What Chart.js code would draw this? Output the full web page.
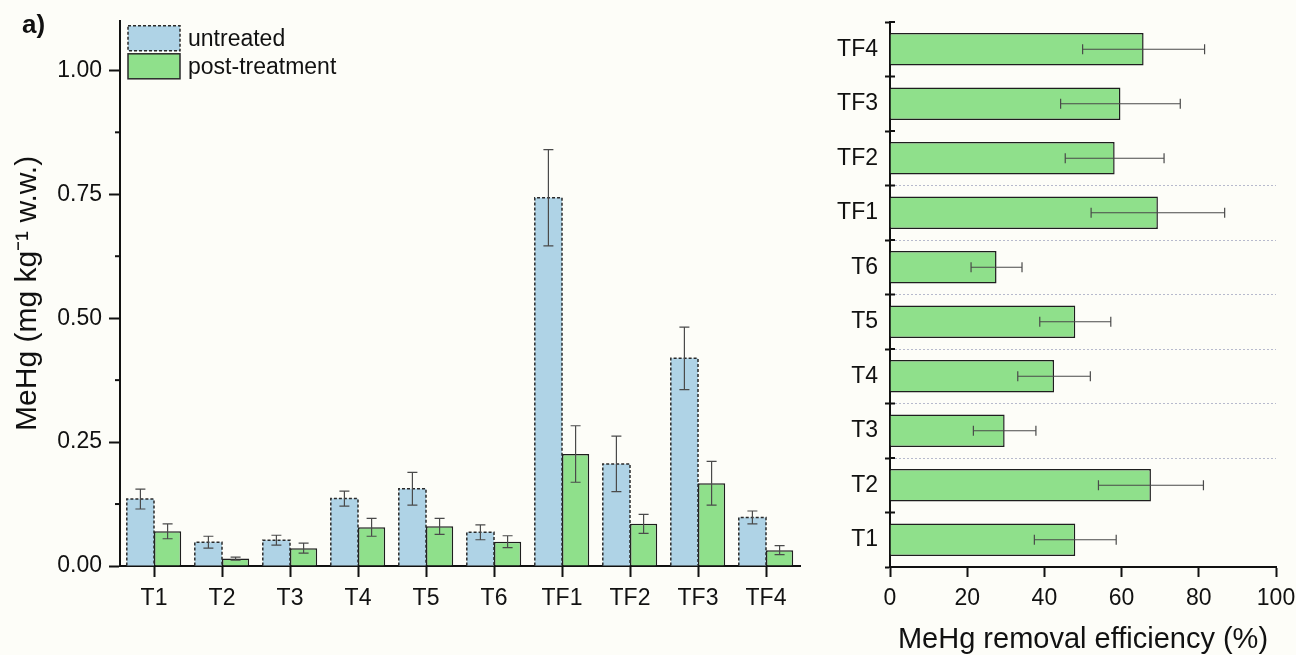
<!DOCTYPE html>
<html>
<head>
<meta charset="utf-8">
<script src="https://cdn.jsdelivr.net/npm/chart.js@4.4.0/dist/chart.umd.min.js"></script>
<style>
  html, body { margin: 0; padding: 0; background: #fdfdf8; }
  body { width: 1296px; height: 655px; position: relative; overflow: hidden; }
  #wa { position: absolute; left: 0; top: 0; width: 820px; height: 655px; }
  #wb { position: absolute; left: 820px; top: 0; width: 476px; height: 655px; }
</style>
</head>
<body>
<div id="wa"><canvas id="ca" width="820" height="655"></canvas></div>
<div id="wb"><canvas id="cb" width="476" height="655"></canvas></div>
<script>
// ---------- data ----------
const categories = ['T1', 'T2', 'T3', 'T4', 'T5', 'T6', 'TF1', 'TF2', 'TF3', 'TF4'];
const untreated = [0.135, 0.048, 0.052, 0.136, 0.156, 0.068, 0.743, 0.206, 0.419, 0.098];
const untreatedErr = [0.020, 0.012, 0.010, 0.015, 0.033, 0.015, 0.097, 0.056, 0.063, 0.013];
const postTreatment = [0.070, 0.015, 0.036, 0.078, 0.080, 0.049, 0.226, 0.085, 0.167, 0.032];
const postTreatmentErr = [0.015, 0.003, 0.010, 0.018, 0.016, 0.012, 0.057, 0.019, 0.044, 0.009];
const removal = [48.0, 67.6, 29.7, 42.5, 48.0, 27.6, 69.4, 58.2, 59.7, 65.7];
const removalErr = [10.6, 13.6, 8.1, 9.4, 9.2, 6.6, 17.3, 12.8, 15.5, 15.8];
const yTicksA = [0, 0.25, 0.5, 0.75, 1.0];
const yTickLabelsA = ['0.00', '0.25', '0.50', '0.75', '1.00'];
const yMinorTicksA = [0.125, 0.375, 0.625, 0.875];
const xTicksB = [0, 20, 40, 60, 80, 100];
const seriesLabels = ['untreated', 'post-treatment'];
const yTitleA = 'MeHg (mg kg\u207B\u00B9 w.w.)';
const xTitleB = 'MeHg removal efficiency (%)';

// ---------- style ----------
const FONT = "'Liberation Sans', Arial, Helvetica, sans-serif";
const BLUE = '#afd3e6';
const GREEN = '#8fe08b';
const INK = '#111111';
Chart.defaults.font.family = FONT;
Chart.defaults.color = INK;

// error bars + dashed outlines
const barExtras = {
  id: 'barExtras',
  afterDatasetsDraw(chart) {
    const ctx = chart.ctx;
    const horizontal = chart.options.indexAxis === 'y';
    const vScale = horizontal ? chart.scales.x : chart.scales.y;
    chart.data.datasets.forEach((ds, i) => {
      const meta = chart.getDatasetMeta(i);
      if (ds.dashed) {
        meta.data.forEach(el => {
          const p = el.getProps(['x', 'y', 'base', 'width'], true);
          ctx.save();
          ctx.strokeStyle = '#2a2a2a';
          ctx.lineWidth = 1.5;
          ctx.setLineDash([3, 2]);
          ctx.beginPath();
          ctx.moveTo(p.x - p.width / 2, p.base);
          ctx.lineTo(p.x - p.width / 2, p.y);
          ctx.lineTo(p.x + p.width / 2, p.y);
          ctx.lineTo(p.x + p.width / 2, p.base);
          ctx.stroke();
          ctx.restore();
        });
      }
    });
    chart.data.datasets.forEach((ds, i) => {
      if (!ds.errors) return;
      const meta = chart.getDatasetMeta(i);
      meta.data.forEach((el, j) => {
        const v = ds.data[j], e = ds.errors[j];
        const p1 = vScale.getPixelForValue(v - e);
        const p2 = vScale.getPixelForValue(v + e);
        const c = horizontal ? el.y : el.x;
        const cap = 5;
        ctx.save();
        ctx.strokeStyle = '#4a4a4a';
        ctx.lineWidth = 1.2;
        ctx.beginPath();
        if (horizontal) {
          ctx.moveTo(p1, c); ctx.lineTo(p2, c);
          ctx.moveTo(p1, c - cap); ctx.lineTo(p1, c + cap);
          ctx.moveTo(p2, c - cap); ctx.lineTo(p2, c + cap);
        } else {
          ctx.moveTo(c, p1); ctx.lineTo(c, p2);
          ctx.moveTo(c - cap, p1); ctx.lineTo(c + cap, p1);
          ctx.moveTo(c - cap, p2); ctx.lineTo(c + cap, p2);
        }
        ctx.stroke();
        ctx.restore();
      });
    });
  }
};

// legend in the plot area of panel a
const insideLegend = {
  id: 'insideLegend',
  afterDraw(chart) {
    const ctx = chart.ctx;
    const area = chart.chartArea;
    const x0 = area.left + 8, y0 = area.top + 5;
    const bw = 52, bh = 25, gap = 3;
    chart.data.datasets.forEach((ds, i) => {
      const y = y0 + i * (bh + gap);
      ctx.save();
      ctx.fillStyle = ds.backgroundColor;
      ctx.fillRect(x0, y, bw, bh);
      ctx.strokeStyle = '#2a2a2a';
      ctx.lineWidth = 1.5;
      ctx.setLineDash(ds.dashed ? [3, 2] : []);
      ctx.strokeRect(x0, y, bw, bh);
      ctx.setLineDash([]);
      ctx.fillStyle = INK;
      ctx.font = '23px ' + FONT;
      ctx.textBaseline = 'middle';
      ctx.textAlign = 'left';
      ctx.fillText(ds.label, x0 + bw + 8, y + bh / 2 + 1);
      ctx.restore();
    });
  }
};

// minor ticks on panel a y axis
const minorTicks = {
  id: 'minorTicks',
  afterDraw(chart) {
    const s = chart.scales.y;
    const ctx = chart.ctx;
    ctx.save();
    ctx.strokeStyle = INK;
    ctx.lineWidth = 2;
    yMinorTicksA.forEach(v => {
      const y = s.getPixelForValue(v);
      ctx.beginPath();
      ctx.moveTo(s.right - 5, y);
      ctx.lineTo(s.right, y);
      ctx.stroke();
    });
    ctx.restore();
  }
};

// inner half of the category boundary ticks on panel b
const innerTicks = {
  id: 'innerTicks',
  afterDraw(chart) {
    const s = chart.scales.y;
    const ctx = chart.ctx;
    ctx.save();
    ctx.strokeStyle = INK;
    ctx.lineWidth = 2;
    for (let i = 0; i <= categories.length; i++) {
      const y = s.getPixelForValue(i - 0.5);
      ctx.beginPath();
      ctx.moveTo(s.right, y);
      ctx.lineTo(s.right + 5, y);
      ctx.stroke();
    }
    ctx.restore();
  }
};

function panelLabel(text, x, y) {
  return {
    id: 'panelLabel',
    afterDraw(chart) {
      const ctx = chart.ctx;
      ctx.save();
      ctx.fillStyle = INK;
      ctx.font = 'bold 26px ' + FONT;
      ctx.textBaseline = 'middle';
      ctx.textAlign = 'left';
      ctx.fillText(text, x, y);
      ctx.restore();
    }
  };
}

// ---------- panel a ----------
new Chart(document.getElementById('ca'), {
  type: 'bar',
  data: {
    labels: categories,
    datasets: [
      { label: seriesLabels[0], data: untreated, errors: untreatedErr, dashed: true,
        backgroundColor: BLUE, borderWidth: 0 },
      { label: seriesLabels[1], data: postTreatment, errors: postTreatmentErr,
        backgroundColor: GREEN, borderColor: '#1e1e1e', borderWidth: 1.5 }
    ]
  },
  options: {
    responsive: false,
    animation: false,
    events: [],
    layout: { padding: { left: 0, right: 20, top: 18, bottom: 0 } },
    datasets: { bar: { categoryPercentage: 0.8, barPercentage: 1.0 } },
    plugins: { legend: { display: false }, tooltip: { enabled: false } },
    scales: {
      x: {
        grid: { display: true, drawOnChartArea: false, offset: false, tickLength: 11, tickWidth: 2, tickColor: INK },
        border: { display: true, color: INK, width: 2 },
        ticks: { font: { size: 23 }, color: INK, padding: 8, maxRotation: 0 },
        afterFit(s) { s.height = 89; }
      },
      y: {
        min: 0, max: 1.1,
        afterBuildTicks(s) { s.ticks = yTicksA.map(v => ({ value: v })); },
        grid: { display: true, drawOnChartArea: false, tickLength: 11, tickWidth: 2, tickColor: INK },
        border: { display: true, color: INK, width: 2 },
        ticks: { font: { size: 23 }, color: INK, padding: 7,
          callback: (v, i) => yTickLabelsA[i] },
        title: { display: true, text: yTitleA, font: { size: 30 }, color: INK, padding: { top: 10, bottom: 0 } },
        afterFit(s) { s.width = 120; }
      }
    }
  },
  plugins: [barExtras, insideLegend, minorTicks, panelLabel('a)', 22, 26)]
});

// ---------- panel b ----------
new Chart(document.getElementById('cb'), {
  type: 'bar',
  data: {
    labels: categories,
    datasets: [
      { label: 'removal', data: removal, errors: removalErr,
        backgroundColor: GREEN, borderColor: '#1e1e1e', borderWidth: 1.5 }
    ]
  },
  options: {
    indexAxis: 'y',
    responsive: false,
    animation: false,
    events: [],
    layout: { padding: { left: 0, right: 20, top: 22, bottom: 0 } },
    datasets: { bar: { categoryPercentage: 0.6, barPercentage: 1.0 } },
    plugins: { legend: { display: false }, tooltip: { enabled: false } },
    scales: {
      x: {
        min: 0, max: 100,
        afterBuildTicks(s) { s.ticks = xTicksB.map(v => ({ value: v })); },
        grid: { display: true, drawOnChartArea: false, tickLength: 10, tickWidth: 2, tickColor: INK },
        border: { display: true, color: INK, width: 2 },
        ticks: { font: { size: 23 }, color: INK, padding: 8, maxRotation: 0 },
        title: { display: true, text: xTitleB, font: { size: 29 }, color: INK, padding: { top: 0, bottom: -2 } },
        afterFit(s) { s.height = 88; s.paddingLeft = 0; s.paddingRight = 0; }
      },
      y: {
        reverse: true,
        grid: {
          display: true, drawOnChartArea: true, offset: true,
          color: (c) => (c.index >= 2 && c.index <= 7) ? 'rgba(175,178,200,0.9)' : 'rgba(0,0,0,0)',
          lineWidth: 1, tickLength: 5, tickWidth: 2, tickColor: INK
        },
        border: { display: true, color: INK, width: 2, dash: [2, 2] },
        ticks: { font: { size: 23 }, color: INK, padding: 7 },
        afterFit(s) { s.width = 70; }
      }
    }
  },
  plugins: [barExtras, innerTicks, panelLabel('b)', 789, 24)]
});
</script>
</body>
</html>
